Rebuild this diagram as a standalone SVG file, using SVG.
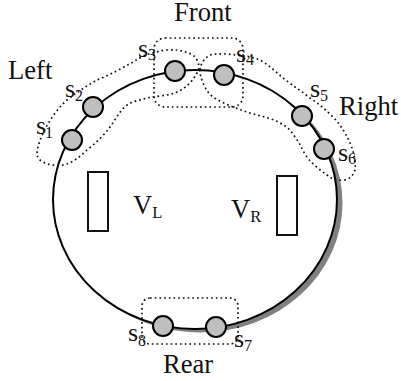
<svg xmlns="http://www.w3.org/2000/svg" width="401" height="381" viewBox="0 0 401 381">
<style>
text{font-family:"Liberation Serif","Times New Roman",serif;fill:#111}
.l{font-size:26.6px}
.s{font-size:26px}
.b{font-size:16px}
.n{fill:#bfbfbf;stroke:#000;stroke-width:2}
.d{fill:none;stroke:#111;stroke-width:1.7;stroke-dasharray:1.7 3}
.r{fill:#fff;stroke:#111;stroke-width:2}
</style>
<rect width="401" height="381" fill="#fff"/>
<g id="connectors">
<ellipse cx="200" cy="203" rx="142.5" ry="129.5" fill="#808080"/>
<ellipse id="ring" cx="195" cy="199.5" rx="142" ry="129.5" fill="#fff" stroke="#000" stroke-width="2"/>
<path class="d" d="M37 153C38 140 50 115 67 100C80 90 90 84 97 80C110 75 122 68 133 62C142 56 150 53 157 52C165 49 172 50 177 50C188 52 195 55 197 60C200 66 199 70 197 73C192 82 186 88 177 92C168 96 156 96 147 98C140 100 133 101 127 105C120 110 116 119 110 127C104 135 96 143 87 150C80 157 72 163 63 165C55 166 46 165 40 160C38 158 37 156 37 153Z"/>
<path class="d" d="M200 70C201 62 205 58 210 55C218 53 228 54 237 55C246 56 253 57 260 60C269 65 276 72 283 78C292 85 301 91 310 98C319 104 326 110 333 117C341 125 346 134 350 143C354 152 356 162 355 170C353 176 349 180 343 180C337 181 332 179 327 175C320 170 312 164 307 157C302 150 300 143 295 137C291 130 286 126 280 123C273 119 265 117 257 115C249 113 241 110 233 107C226 104 219 101 213 97C208 93 205 88 203 83C201 78 200 74 200 70Z"/>
<rect class="d" x="154" y="38" width="89" height="69" rx="11"/>
<rect class="d" x="142" y="298" width="96" height="46" rx="8"/>
</g>
<g id="s1"><circle class="n" cx="72" cy="140" r="10"/><text class="s" x="36" y="134">s</text><text class="b" x="45" y="138">1</text></g>
<g id="s2"><circle class="n" cx="93" cy="107" r="10"/><text class="s" x="65" y="97">s</text><text class="b" x="75" y="101">2</text></g>
<g id="s3"><circle class="n" cx="175" cy="71" r="10"/><text class="s" x="138" y="57">s</text><text class="b" x="148" y="60">3</text></g>
<g id="s4"><circle class="n" cx="224" cy="75" r="10"/><text class="s" x="236" y="62">s</text><text class="b" x="246" y="65">4</text></g>
<g id="s5"><circle class="n" cx="302" cy="116" r="10"/><text class="s" x="310" y="97">s</text><text class="b" x="320" y="101">5</text></g>
<g id="s6"><circle class="n" cx="324" cy="149" r="10"/><text class="s" x="338" y="161">s</text><text class="b" x="348" y="164">6</text></g>
<g id="s7"><circle class="n" cx="216" cy="327" r="10"/><text class="s" x="234" y="347">s</text><text class="b" x="244" y="351">7</text></g>
<g id="s8"><circle class="n" cx="163" cy="326" r="10"/><text class="s" x="128" y="341">s</text><text class="b" x="138" y="346">8</text></g>
<g id="left-box"><rect class="r" x="88" y="172" width="20" height="59"/></g>
<g id="right-box"><rect class="r" x="277" y="176" width="20" height="59"/></g>
<g id="labels">
<text class="l" x="8" y="79">Left</text>
<text class="l" x="174" y="21">Front</text>
<text class="l" x="339" y="115">Right</text>
<text class="l" x="163" y="373">Rear</text>
<text class="l" x="133" y="214">V<tspan font-size="16.5" dy="4">L</tspan></text>
<text class="l" x="231" y="218">V<tspan font-size="16.5" dy="4">R</tspan></text>
</g>
</svg>
